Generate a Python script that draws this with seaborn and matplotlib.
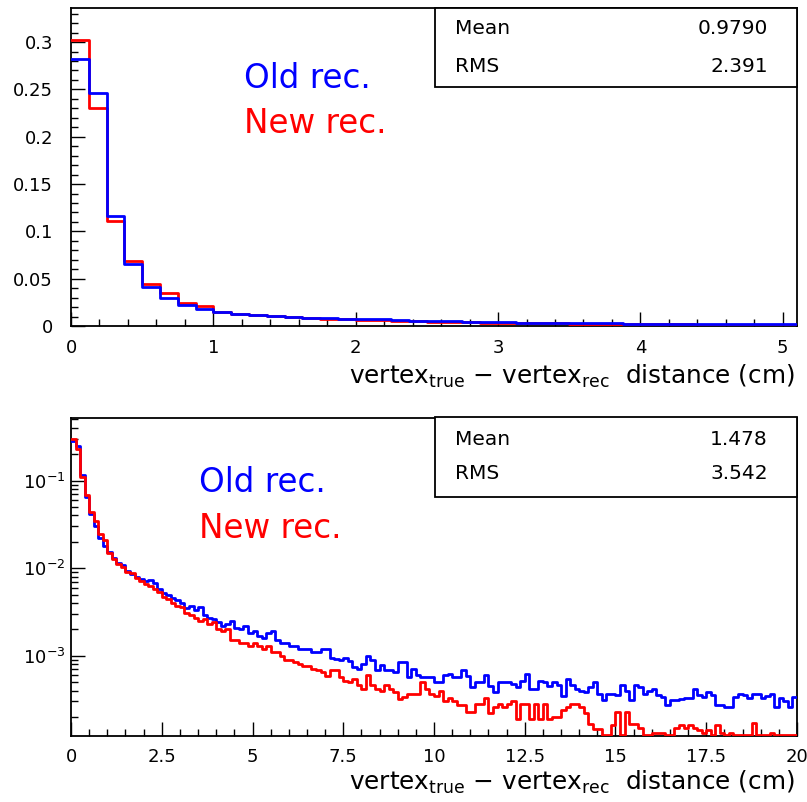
import numpy as np
import pandas as pd
import matplotlib
matplotlib.use("Agg")
import matplotlib.pyplot as plt
import seaborn as sns
from matplotlib.patches import Rectangle
from matplotlib.ticker import MultipleLocator, LogLocator, NullFormatter

# ---------------------------------------------------------------------------
# Vertex-distance histograms: 160 bins of 0.125 cm between 0 and 20 cm,
# normalised to unit area (fraction of events per bin).
# ---------------------------------------------------------------------------
bin_width = 0.125
n_bins = 160
x_range = (0.0, 20.0)
centers = x_range[0] + (np.arange(n_bins) + 0.5) * bin_width

old_rec = [
    0.2825, 0.246, 0.1165, 0.065, 0.0416, 0.030, 0.022, 0.0177,
    0.0152, 0.0132, 0.0115, 0.0108, 0.0094, 0.0086, 0.0080, 0.0076,
    0.0072, 0.0074, 0.0068, 0.0058, 0.0052, 0.0049, 0.0046, 0.0043,
    0.0040, 0.0035, 0.0037, 0.0033, 0.0036, 0.0029, 0.0027, 0.0026,
    0.0024, 0.0022, 0.0023, 0.0025, 0.0021, 0.0020, 0.0022, 0.0018,
    0.0019, 0.0017, 0.0016, 0.0018, 0.0019, 0.0015, 0.0014, 0.0014,
    0.0013, 0.0013, 0.0012, 0.0012, 0.0012, 0.0011, 0.0011, 0.0012,
    0.0012, 0.00093, 0.00092, 0.00090, 0.00093, 0.00088, 0.00074, 0.00071,
    0.00081, 0.00100, 0.00090, 0.00068, 0.00078, 0.00068, 0.00068, 0.00066,
    0.00085, 0.00085, 0.00057, 0.00070, 0.00060, 0.00057, 0.00057, 0.00057,
    0.00050, 0.00050, 0.00060, 0.00062, 0.00057, 0.00057, 0.00068, 0.00058,
    0.00044, 0.00050, 0.00050, 0.00060, 0.00045, 0.00038, 0.00050, 0.00050,
    0.00050, 0.00047, 0.00044, 0.00052, 0.00062, 0.00042, 0.00042, 0.00052,
    0.00050, 0.00045, 0.00050, 0.00046, 0.00035, 0.00054, 0.00046, 0.00042,
    0.00040, 0.00038, 0.00044, 0.00050, 0.00037, 0.00031, 0.00037, 0.00037,
    0.00036, 0.00046, 0.00040, 0.00031, 0.00046, 0.00044, 0.00037, 0.00040,
    0.00042, 0.00036, 0.00034, 0.00027, 0.00031, 0.00031, 0.00032, 0.00033,
    0.00033, 0.00042, 0.00036, 0.00034, 0.00038, 0.00036, 0.00027, 0.00027,
    0.00026, 0.00026, 0.00034, 0.00037, 0.00036, 0.00033, 0.00037, 0.00037,
    0.00033, 0.00035, 0.00037, 0.00026, 0.00033, 0.00030, 0.00026, 0.00034,
]

new_rec = [
    0.302, 0.230, 0.111, 0.069, 0.044, 0.0346, 0.0247, 0.0212,
    0.0150, 0.0128, 0.0112, 0.0103, 0.0090, 0.0088, 0.0078, 0.0072,
    0.0066, 0.0062, 0.0058, 0.0053, 0.0047, 0.0045, 0.0040, 0.0037,
    0.0036, 0.0031, 0.0029, 0.0027, 0.0025, 0.0026, 0.0023, 0.0024,
    0.0020, 0.0019, 0.0020, 0.0015, 0.0015, 0.0014, 0.0014, 0.0013,
    0.0014, 0.0013, 0.0012, 0.0013, 0.0011, 0.0011, 0.0010, 0.0009,
    0.0009, 0.00085, 0.0008, 0.00076, 0.00077, 0.00071, 0.00068, 0.00066,
    0.00059, 0.00068, 0.00068, 0.00057, 0.00052, 0.00050, 0.00054, 0.00046,
    0.00042, 0.00060, 0.00046, 0.00042, 0.00040, 0.00046, 0.00042, 0.00038,
    0.00032, 0.00034, 0.00037, 0.00037, 0.00037, 0.00050, 0.00042, 0.00037,
    0.00035, 0.00040, 0.00030, 0.00033, 0.00030, 0.00027, 0.00027, 0.00023,
    0.00023, 0.00028, 0.00028, 0.00033, 0.00022, 0.00026, 0.00028, 0.00026,
    0.00028, 0.00030, 0.00019, 0.00028, 0.00028, 0.00019, 0.00028, 0.00019,
    0.00028, 0.00019, 0.00020, 0.00020, 0.00024, 0.00026, 0.00028, 0.00028,
    0.00026, 0.00022, 0.000165, 0.000145, 0.000145, 0.000125, 0.000125, 0.00016,
    0.00023, 0.000125, 0.00023, 0.000165, 0.000165, 0.00015, 0.000125, 0.000125,
    0.00013, 0.00013, 0.00013, 0.000125, 0.000125, 0.00015, 0.00016, 0.00015,
    0.00016, 0.00015, 0.00014, 0.00013, 0.00014, 0.000125, 0.00016, 0.00013,
    0.000125, 0.00013, 0.000125, 0.000125, 0.000125, 0.000125, 0.00017, 0.000125,
    0.000125, 0.000125, 0.00013, 0.000125, 0.000125, 0.000125, 0.000125, 0.000125,
]

series_labels = ["Old rec.", "New rec."]
series_colors = ["#0000ff", "#ff0000"]

stats_top = [("Mean", "0.9790"), ("RMS", "2.391")]
stats_bottom = [("Mean", "1.478"), ("RMS", "3.542")]

top_xticks = [0, 1, 2, 3, 4, 5]
top_xticklabels = ["0", "1", "2", "3", "4", "5"]
top_yticks = [0, 0.05, 0.1, 0.15, 0.2, 0.25, 0.3]
top_yticklabels = ["0", "0.05", "0.1", "0.15", "0.2", "0.25", "0.3"]
bot_xticks = [0, 2.5, 5, 7.5, 10, 12.5, 15, 17.5, 20]
bot_xticklabels = ["0", "2.5", "5", "7.5", "10", "12.5", "15", "17.5", "20"]
bot_yticks = [1e-3, 1e-2, 1e-1]
bot_yticklabels = [r"$10^{-3}$", r"$10^{-2}$", r"$10^{-1}$"]

xlabel = r"vertex$_{\mathregular{true}}$ $-$ vertex$_{\mathregular{rec}}$  distance (cm)"

hist_df = pd.DataFrame({"distance": centers, "old": old_rec, "new": new_rec})

# ---------------------------------------------------------------------------
sns.set_theme(style="white")
plt.rcParams["font.family"] = ["DejaVu Sans"]
plt.rcParams["mathtext.fontset"] = "dejavusans"
plt.rcParams["text.color"] = "black"

fig = plt.figure(figsize=(8.07, 8.02), dpi=100)
ax_top = fig.add_axes([0.0880, 0.5935, 0.8996, 0.3965])
ax_bot = fig.add_axes([0.0880, 0.0823, 0.8996, 0.3965])


def draw_hist(ax, column, color, zorder):
    sns.histplot(data=hist_df, x="distance", weights=column, bins=n_bins,
                 binrange=x_range, element="step", fill=False, color=color,
                 linewidth=2.0, ax=ax, zorder=zorder)


# linear view, first 5.1 cm
draw_hist(ax_top, "new", series_colors[1], 3)
draw_hist(ax_top, "old", series_colors[0], 4)
# logarithmic view, full range
draw_hist(ax_bot, "old", series_colors[0], 3)
draw_hist(ax_bot, "new", series_colors[1], 4)
ax_bot.set_yscale("log")

ax_top.set_xlim(0, 5.1)
ax_top.set_ylim(0, 0.336)
ax_bot.set_xlim(0, 20)
ax_bot.set_ylim(1.21e-4, 0.52)

for ax in (ax_top, ax_bot):
    ax.set_xlabel("")
    ax.set_ylabel("")
    for sp in ax.spines.values():
        sp.set_visible(True)
        sp.set_color("black")
        sp.set_linewidth(1.3)
        sp.set_zorder(2)
    ax.tick_params(which="both", direction="in", bottom=True, left=True,
                   top=False, right=False, colors="black", labelcolor="black",
                   width=1.0)
    ax.tick_params(which="major", length=10)
    ax.tick_params(which="minor", length=5)
    ax.tick_params(axis="x", labelsize=13, pad=9)

ax_top.set_xticks(top_xticks, top_xticklabels)
ax_top.set_yticks(top_yticks, top_yticklabels)
ax_top.xaxis.set_minor_locator(MultipleLocator(0.2))
ax_top.yaxis.set_minor_locator(MultipleLocator(0.01))
ax_top.tick_params(axis="y", labelsize=13, pad=13)

ax_bot.set_xticks(bot_xticks, bot_xticklabels)
ax_bot.xaxis.set_minor_locator(MultipleLocator(0.5))
ax_bot.set_yticks(bot_yticks, bot_yticklabels)
ax_bot.yaxis.set_minor_locator(LogLocator(base=10, subs=np.arange(2, 10)))
ax_bot.yaxis.set_minor_formatter(NullFormatter())
ax_bot.tick_params(axis="y", labelsize=13, pad=4)

# axis titles, right aligned under each frame
fig.text(0.985, 0.531, xlabel, ha="right", va="center", fontsize=17.8)
fig.text(0.985, 0.024, xlabel, ha="right", va="center", fontsize=17.8)

# series captions
fig.text(0.302, 0.9027, series_labels[0], color=series_colors[0], fontsize=23.5, va="center")
fig.text(0.302, 0.8454, series_labels[1], color=series_colors[1], fontsize=23.5, va="center")
fig.text(0.247, 0.3978, series_labels[0], color=series_colors[0], fontsize=23.5, va="center")
fig.text(0.247, 0.3404, series_labels[1], color=series_colors[1], fontsize=23.5, va="center")


def stats_box(y0, y1, rows, row_y):
    fig.patches.append(Rectangle((0.539, y0), 0.9876 - 0.539, y1 - y0,
                                 transform=fig.transFigure, facecolor="white",
                                 edgecolor="black", linewidth=1.3, zorder=5))
    for (name, val), yy in zip(rows, row_y):
        fig.text(0.5638, yy, name, ha="left", va="center", fontsize=14.5, zorder=6)
        fig.text(0.9517, yy, val, ha="right", va="center", fontsize=14.5, zorder=6)


stats_box(0.8915, 0.990, stats_top, [0.965, 0.9165])
stats_box(0.3803, 0.480, stats_bottom, [0.4514, 0.409])

fig.savefig("out.png", dpi=100, facecolor="white")
